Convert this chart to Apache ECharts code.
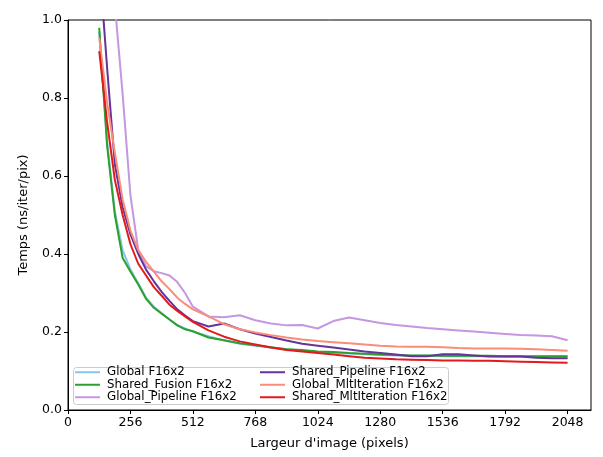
<!DOCTYPE html>
<html>
<head>
<meta charset="utf-8">
<script src="https://cdn.jsdelivr.net/npm/echarts@6/dist/echarts.min.js"></script>
<style>html,body{margin:0;padding:0;background:#fff}#c{width:603px;height:457px}</style>
</head>
<body>
<div id="c"></div>
<script>
const widths = [128,160,192,224,256,288,320,352,384,416,448,480,512,576,640,704,768,832,896,960,1024,1088,1152,1216,1280,1344,1408,1472,1536,1600,1664,1728,1792,1856,1920,1984,2048];

const globalF16 = [0.97,0.69,0.51,0.41,0.36,0.325,0.288,0.265,0.248,0.232,0.218,0.209,0.201,0.189,0.178,0.170,0.165,0.160,0.156,0.152,0.149,0.147,0.145,0.143,0.141,0.140,0.139,0.139,0.138,0.138,0.138,0.138,0.137,0.137,0.137,0.137,0.137];
const sharedFusion = [0.98,0.68,0.50,0.39,0.355,0.322,0.285,0.262,0.247,0.232,0.217,0.207,0.202,0.186,0.179,0.171,0.166,0.161,0.156,0.154,0.150,0.149,0.146,0.144,0.142,0.141,0.140,0.140,0.139,0.139,0.139,0.139,0.138,0.138,0.138,0.138,0.138];
const globalPipeline = [1.6,1.25,1.04,0.81,0.55,0.41,0.368,0.356,0.351,0.345,0.328,0.300,0.265,0.240,0.238,0.243,0.230,0.222,0.217,0.218,0.209,0.228,0.237,0.230,0.223,0.218,0.214,0.210,0.207,0.204,0.201,0.198,0.195,0.192,0.191,0.189,0.179];
const sharedPipeline = [1.15,0.88,0.63,0.52,0.45,0.40,0.36,0.33,0.303,0.28,0.258,0.242,0.228,0.214,0.222,0.207,0.196,0.187,0.178,0.170,0.165,0.160,0.155,0.150,0.146,0.142,0.138,0.138,0.143,0.143,0.140,0.137,0.137,0.137,0.134,0.133,0.133];
const globalMlt = [0.955,0.79,0.66,0.54,0.46,0.41,0.38,0.355,0.33,0.31,0.288,0.272,0.258,0.240,0.220,0.207,0.199,0.192,0.186,0.181,0.177,0.174,0.171,0.168,0.165,0.163,0.162,0.162,0.161,0.159,0.158,0.158,0.158,0.157,0.156,0.154,0.152];
const sharedMlt = [0.92,0.74,0.59,0.50,0.425,0.375,0.345,0.315,0.293,0.27,0.254,0.24,0.226,0.204,0.188,0.176,0.168,0.160,0.154,0.150,0.146,0.142,0.138,0.134,0.132,0.130,0.129,0.128,0.127,0.127,0.126,0.126,0.125,0.124,0.123,0.122,0.121];

const xTicks = [0,256,512,768,1024,1280,1536,1792,2048];
const yTicks = [0,0.2,0.4,0.6,0.8,1.0];

const seriesDefs = [
  {name:'Global F16x2', data:globalF16, color:'#87c5ea'},
  {name:'Shared_Fusion F16x2', data:sharedFusion, color:'#2ca02c'},
  {name:'Global_Pipeline F16x2', data:globalPipeline, color:'#c497e0'},
  {name:'Shared_Pipeline F16x2', data:sharedPipeline, color:'#663399'},
  {name:'Global_MltIteration F16x2', data:globalMlt, color:'#fa8c78'},
  {name:'Shared_MltIteration F16x2', data:sharedMlt, color:'#e31a1c'}
];

const font = 'DejaVu Sans';
const chart = echarts.init(document.getElementById('c'), null, {renderer:'canvas'});
const legendCommon = {
  orient:'vertical', icon:'rect', itemWidth:25, itemHeight:2, itemGap:0,
  textStyle:{fontFamily:font, fontSize:11.8, color:'#000', lineHeight:12.5, padding:[0,0,0,2]},
  selectedMode:false, padding:0
};
chart.setOption({
  animation:false,
  backgroundColor:'#fff',
  grid:{left:68, right:12, top:20, bottom:47, show:true, borderColor:'#000', borderWidth:1, backgroundColor:'transparent'},
  xAxis:{
    type:'value', min:0, max:2144,
    name:"Largeur d'image (pixels)", nameLocation:'middle', nameGap:27,
    nameTextStyle:{fontFamily:font, fontSize:13, color:'#000'},
    axisLine:{show:true, onZero:false, lineStyle:{color:'#000', width:1}},
    axisTick:{show:true, inside:false, length:4, lineStyle:{color:'#000'}, customValues:xTicks},
    axisLabel:{fontFamily:font, fontSize:12.5, color:'#000', margin:6, customValues:xTicks, formatter:v=>String(v)},
    splitLine:{show:false}
  },
  yAxis:{
    type:'value', min:0, max:1,
    name:'Temps (ns/iter/pix)', nameLocation:'middle', nameGap:38, nameRotate:90,
    nameTextStyle:{fontFamily:font, fontSize:13, color:'#000'},
    axisLine:{show:true, lineStyle:{color:'#000', width:1}},
    axisTick:{show:true, inside:false, length:4, lineStyle:{color:'#000'}, customValues:yTicks},
    axisLabel:{fontFamily:font, fontSize:12.5, color:'#000', margin:6, customValues:yTicks, formatter:v=>v.toFixed(1)},
    splitLine:{show:false}
  },
  graphic:[{type:'rect', left:73, top:367, shape:{width:375, height:37, r:3}, style:{fill:'rgba(255,255,255,0.8)', stroke:'#cccccc', lineWidth:1}, z:90}],
  legend:[
    Object.assign({left:75, top:366, data:seriesDefs.slice(0,3).map(s=>s.name), z:100}, legendCommon),
    Object.assign({left:260, top:366, data:seriesDefs.slice(3).map(s=>s.name), z:100}, legendCommon)
  ],
  series:seriesDefs.map(s=>({
    name:s.name, type:'line', showSymbol:false, symbol:'none', clip:true,
    data:widths.map((w,i)=>[w, s.data[i]]),
    lineStyle:{color:s.color, width:2}, itemStyle:{color:s.color},
    emphasis:{disabled:true}
  }))
});
</script>
</body>
</html>
